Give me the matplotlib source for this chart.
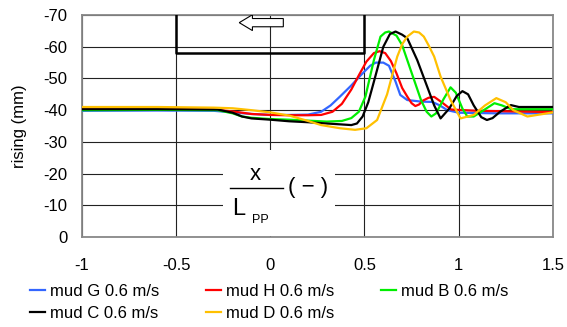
import numpy as np
import matplotlib.pyplot as plt
from matplotlib.patches import Rectangle, FancyArrow

plt.rcParams['font.family'] = ['Liberation Sans', 'DejaVu Sans']

# mud G 0.6 m/s
x_g = [-1, -0.6, -0.3, -0.2, -0.1, 0.0, 0.1, 0.2, 0.27, 0.32, 0.37, 0.43, 0.48,
       0.53, 0.56, 0.60, 0.63, 0.665, 0.69, 0.727, 0.8, 0.86, 0.9, 0.94, 1.0, 1.2, 1.5]
y_g = [-39.8, -39.9, -39.8, -39.3, -38.8, -38.5, -38.5, -38.6, -39.5, -41.5, -44.3,
       -47.8, -51.0, -54.0, -55.0, -55.0, -54.0, -49.0, -44.8, -43.2, -42.7, -42.6,
       -41.5, -40.0, -39.2, -39.0, -39.0]

# mud H 0.6 m/s
x_h = [-1, -0.6, -0.3, -0.2, -0.1, 0.0, 0.1, 0.2, 0.27, 0.33, 0.38, 0.43, 0.47,
       0.51, 0.55, 0.58, 0.61, 0.64, 0.67, 0.70, 0.727, 0.75, 0.77, 0.79, 0.81,
       0.84, 0.87, 0.91, 0.96, 1.1, 1.3, 1.5]
y_h = [-40.3, -40.4, -40.2, -39.6, -38.8, -38.5, -38.4, -38.4, -38.5, -39.5, -42.0,
       -46.5, -51.0, -55.3, -58.0, -58.6, -58.0, -55.5, -51.6, -47.0, -44.3, -42.2,
       -41.3, -41.8, -43.0, -43.9, -44.2, -42.5, -40.2, -39.8, -39.6, -39.4]

# mud B 0.6 m/s
x_b = [-1, -0.6, -0.28, -0.2, -0.15, -0.1, 0.0, 0.1, 0.2, 0.3, 0.38, 0.43, 0.47,
       0.505, 0.55, 0.585, 0.61, 0.63, 0.67, 0.70, 0.745, 0.80, 0.83, 0.855, 0.88,
       0.92, 0.957, 0.985, 1.02, 1.046, 1.08, 1.12, 1.19, 1.23, 1.28, 1.35, 1.5]
y_b = [-40.0, -40.1, -40.0, -39.0, -38.0, -37.6, -37.2, -37.0, -36.7, -36.4, -36.6,
       -37.5, -39.5, -44.3, -55.8, -63.2, -64.5, -64.8, -63.5, -60.5, -52.7, -43.2,
       -39.5, -38.0, -39.0, -43.5, -47.2, -45.5, -40.5, -38.0, -38.0, -39.5, -42.2,
       -41.5, -40.3, -40.3, -40.3]

# mud C 0.6 m/s
x_c = [-1, -0.6, -0.28, -0.2, -0.15, -0.1, 0.0, 0.1, 0.2, 0.3, 0.43, 0.46, 0.49,
       0.52, 0.55, 0.60, 0.635, 0.665, 0.70, 0.727, 0.78, 0.833, 0.87, 0.904, 0.95,
       0.99, 1.02, 1.05, 1.08, 1.12, 1.15, 1.18, 1.22, 1.277, 1.32, 1.5]
y_c = [-40.3, -40.3, -40.2, -39.2, -38.0, -37.4, -37.0, -36.5, -36.2, -35.8, -35.3,
       -35.8, -38.0, -42.5, -49.0, -60.0, -64.0, -64.8, -63.8, -62.7, -55.8, -47.4,
       -41.5, -37.4, -40.5, -44.5, -46.0, -45.0, -41.5, -37.8, -36.9, -37.5, -39.5,
       -41.6, -41.0, -41.0]

# mud D 0.6 m/s
x_d = [-1, -0.6, -0.3, -0.2, -0.1, 0.0, 0.1, 0.2, 0.27, 0.37, 0.45, 0.51, 0.567,
       0.62, 0.647, 0.674, 0.70, 0.727, 0.762, 0.79, 0.815, 0.84, 0.87, 0.904, 0.957,
       1.01, 1.08, 1.14, 1.2, 1.25, 1.29, 1.365, 1.47, 1.5]
y_d = [-41.0, -41.0, -40.8, -40.6, -40.0, -39.3, -38.3, -36.6, -35.3, -34.3, -33.8,
       -34.3, -36.9, -45.0, -51.0, -56.9, -60.8, -63.2, -64.8, -64.5, -63.2, -60.5,
       -56.9, -50.6, -43.2, -37.4, -38.5, -41.5, -43.8, -42.5, -40.0, -38.0, -39.0,
       -39.3]

labels = ['mud G 0.6 m/s', 'mud H 0.6 m/s', 'mud B 0.6 m/s', 'mud C 0.6 m/s', 'mud D 0.6 m/s']
colors = ['#3366ff', '#ff0000', '#00ee00', '#000000', '#ffc000']
xticks = [-1, -0.5, 0, 0.5, 1, 1.5]
yticks = [0, -10, -20, -30, -40, -50, -60, -70]

fig = plt.figure(figsize=(5.67, 3.27), dpi=100)
ax = fig.add_axes([0.1446, 0.2752, 0.8304, 0.6788])

series = [(x_g, y_g), (x_h, y_h), (x_b, y_b), (x_c, y_c), (x_d, y_d)]
lines = []
for (xs, ys), lab, col in zip(series, labels, colors):
    ln, = ax.plot(xs, ys, color=col, lw=1.6, label=lab, zorder=3)
    lines.append(ln)

ax.set_xlim(-1, 1.5)
ax.set_ylim(0, -70)
ax.set_xticks(xticks)
ax.set_xticklabels(['-1', '-0.5', '0', '0.5', '1', '1.5'])
ax.set_yticks(yticks)
ax.set_yticklabels([str(t) for t in yticks])
ax.tick_params(axis='both', length=0, labelsize=12)
ax.tick_params(axis='x', pad=15)
ax.tick_params(axis='y', pad=10.5)
ax.set_axisbelow(True)
ax.grid(True, color='#222222', lw=0.8)
for s in ax.spines.values():
    s.set_color('#888888')
    s.set_linewidth(1.3)

ax.set_ylabel('rising (mm)', fontsize=12)
ax.yaxis.set_label_coords(-0.117, 0.5)

# ship outline and direction arrow
ax.plot([-0.5, -0.5, 0.5, 0.5], [-71, -58, -58, -71], color='black', lw=1.8,
        clip_on=True, zorder=4)
ax.add_patch(FancyArrow(0.069, -67.6, -0.234, 0, width=2.6, head_width=5.0,
                        head_length=0.07, length_includes_head=True,
                        facecolor='white', edgecolor='black', lw=0.8, zorder=5))

# axis label as fraction inside the plot
ax.add_patch(Rectangle((-0.25, -0.3), 0.596, -27.0, facecolor='white',
                       edgecolor='none', zorder=1))
ax.text(-0.08, -18.0, 'x', fontsize=16, ha='center', va='baseline', zorder=6)
ax.plot([-0.213, 0.069], [-15.5, -15.5], color='black', lw=1.0, zorder=6)
ax.text(-0.205, -6.9, 'L', fontsize=17, ha='left', va='baseline', zorder=6)
ax.text(-0.096, -4.4, 'PP', fontsize=9, ha='left', va='baseline', zorder=6)
ax.text(0.2, -15.5, '( \u2212 )', fontsize=16, ha='center', va='center', zorder=6)

# legend filled row by row: G H B / C D
order = [0, 3, 1, 4, 2]
fig.legend([lines[i] for i in order], [labels[i] for i in order],
           loc='upper left', bbox_to_anchor=(30 / 567, 1 - 284 / 327), ncol=3,
           frameon=False, fontsize=12, handlelength=0.9, handletextpad=0.3,
           columnspacing=2.8, labelspacing=0.42, borderpad=0, borderaxespad=0)

fig.savefig('out.png', dpi=100)
